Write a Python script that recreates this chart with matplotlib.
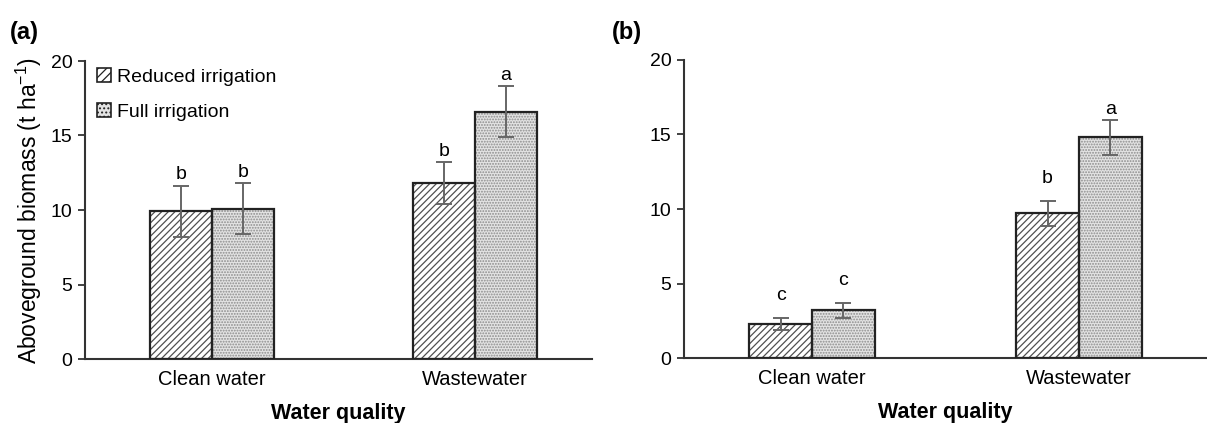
import numpy as np
import matplotlib
matplotlib.use('Agg')
import matplotlib.pyplot as plt

plt.rcParams['font.family'] = ['Liberation Sans', 'DejaVu Sans']
plt.rcParams['hatch.linewidth'] = 0.9

# Veriler
gruplar = ['Clean water', 'Wastewater']
seriler = ['Reduced irrigation', 'Full irrigation']

a_azaltilmis = [9.9, 11.8]
a_azaltilmis_hata = [1.7, 1.4]
a_tam = [10.1, 16.6]
a_tam_hata = [1.7, 1.7]
a_harf_azaltilmis = ['b', 'b']
a_harf_tam = ['b', 'a']
a_bosluk_azaltilmis = [0.75, 0.75]
a_bosluk_tam = [0.75, 0.75]

b_azaltilmis = [2.3, 9.7]
b_azaltilmis_hata = [0.4, 0.85]
b_tam = [3.2, 14.8]
b_tam_hata = [0.5, 1.15]
b_harf_azaltilmis = ['c', 'b']
b_harf_tam = ['c', 'a']
b_bosluk_azaltilmis = [1.5, 1.5]
b_bosluk_tam = [1.5, 0.75]

yticks = [0, 5, 10, 15, 20]


def panel_ciz(ax, azaltilmis, az_hata, tam, tam_hata, harf_az, harf_tam,
              bosluk_az, bosluk_tam, xlim):
    x = np.arange(len(gruplar))
    w = 0.235
    # dolgu desenleri (hatch rengi kenar rengiyle gelir, o yüzden iki kat)
    ax.bar(x - w / 2, azaltilmis, w, color='white', edgecolor='#505050',
           hatch='/////', linewidth=0, zorder=2)
    ax.bar(x + w / 2, tam, w, color='#e3e3e3', edgecolor='#8c8c8c',
           hatch='......', linewidth=0, zorder=2)
    # çerçeveler
    ax.bar(x - w / 2, azaltilmis, w, color='none', edgecolor='#222222',
           linewidth=1.6, zorder=3)
    ax.bar(x + w / 2, tam, w, color='none', edgecolor='#222222',
           linewidth=1.6, zorder=3)
    ax.errorbar(x - w / 2, azaltilmis, yerr=az_hata, fmt='none', ecolor='#666666',
                elinewidth=1.4, capsize=5.5, capthick=1.4, zorder=4)
    ax.errorbar(x + w / 2, tam, yerr=tam_hata, fmt='none', ecolor='#666666',
                elinewidth=1.4, capsize=5.5, capthick=1.4, zorder=4)
    for i in range(len(gruplar)):
        ax.text(x[i] - w / 2, azaltilmis[i] + az_hata[i] + bosluk_az[i], harf_az[i],
                ha='center', va='center', fontsize=14)
        ax.text(x[i] + w / 2, tam[i] + tam_hata[i] + bosluk_tam[i], harf_tam[i],
                ha='center', va='center', fontsize=14)
    ax.set_xlim(*xlim)
    ax.set_ylim(0, 20)
    ax.set_yticks(yticks)
    ax.set_xticks(x)
    ax.set_xticklabels(gruplar, fontsize=14.5)
    ax.tick_params(axis='x', length=0, pad=8)
    ax.tick_params(axis='y', length=5, width=1.3, labelsize=14, color='#333333', pad=4)
    ax.spines['top'].set_visible(False)
    ax.spines['right'].set_visible(False)
    for s in ['left', 'bottom']:
        ax.spines[s].set_linewidth(1.5)
        ax.spines[s].set_color('#333333')
    ax.set_xlabel('Water quality', fontsize=15.5, fontweight='bold', labelpad=10)


fig = plt.figure(figsize=(12.07, 4.23), dpi=100)
ax1 = fig.add_axes([85 / 1207, 1 - 359 / 423, (592 - 85) / 1207, (359 - 61) / 423])
ax2 = fig.add_axes([684 / 1207, 1 - 358 / 423, (1207 - 684) / 1207, (358 - 60) / 423])

panel_ciz(ax1, a_azaltilmis, a_azaltilmis_hata, a_tam, a_tam_hata,
          a_harf_azaltilmis, a_harf_tam, a_bosluk_azaltilmis, a_bosluk_tam,
          (-0.483, 1.445))
panel_ciz(ax2, b_azaltilmis, b_azaltilmis_hata, b_tam, b_tam_hata,
          b_harf_azaltilmis, b_harf_tam, b_bosluk_azaltilmis, b_bosluk_tam,
          (-0.48, 1.48))

ax1.set_ylabel('Aboveground biomass (t ha$^{\\mathregular{-1}}$)', fontsize=16.5, labelpad=5)

# lejant için vekil kutular
h1 = plt.Rectangle((0, 0), 1, 1, facecolor='white', edgecolor='#222222', hatch='////', lw=1.2)
h2 = plt.Rectangle((0, 0), 1, 1, facecolor='#e3e3e3', edgecolor='#222222', hatch='....', lw=1.2)
ax1.legend([h1, h2], seriler, loc='upper left', bbox_to_anchor=(0.0, 1.015),
           frameon=False, fontsize=14, handlelength=0.75, handleheight=0.75,
           handletextpad=0.3, labelspacing=0.85, borderaxespad=0.3, borderpad=0.3)

fig.text(10 / 1207, 1 - 32 / 423, '(a)', fontsize=17, fontweight='bold', va='center')
fig.text(612 / 1207, 1 - 32 / 423, '(b)', fontsize=17, fontweight='bold', va='center')

fig.savefig('out.png', dpi=100)
